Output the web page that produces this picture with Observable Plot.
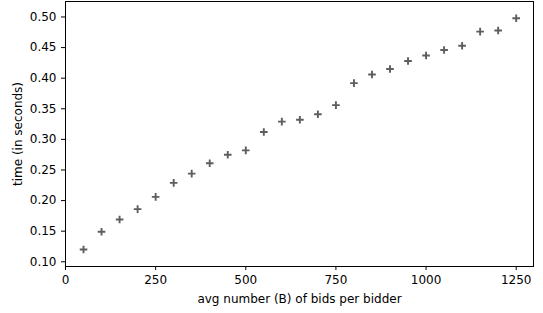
<!DOCTYPE html>
<html>
<head>
<meta charset="utf-8">
<script src="https://cdn.jsdelivr.net/npm/d3@7"></script>
<script src="https://cdn.jsdelivr.net/npm/@observablehq/plot@0.6"></script>
<style>
  html, body { margin: 0; padding: 0; background: #fff; }
  svg { display: block; }
</style>
</head>
<body>
<div id="chart"></div>
<script>
const bids = [50,100,150,200,250,300,350,400,450,500,550,600,650,700,750,800,850,900,950,1000,1050,1100,1150,1200,1250];
const times = [0.120,0.149,0.169,0.186,0.206,0.229,0.244,0.261,0.275,0.282,0.312,0.329,0.332,0.341,0.356,0.392,0.406,0.415,0.428,0.437,0.446,0.453,0.476,0.478,0.498];
const xTicks = [0,250,500,750,1000,1250];
const yTicks = [0.10,0.15,0.20,0.25,0.30,0.35,0.40,0.45,0.50];

const data = bids.map((b, i) => ({b, t: times[i]}));

const plusSymbol = {
  draw(context, size) {
    const r = Math.sqrt(size / Math.PI);
    context.moveTo(-r, 0); context.lineTo(r, 0);
    context.moveTo(0, -r); context.lineTo(0, r);
  }
};

const chart = Plot.plot({
  width: 543,
  height: 313,
  marginTop: 1,
  marginBottom: 47,
  marginLeft: 65,
  marginRight: 10,
  style: {fontFamily: "DejaVu Sans", fontSize: "12px", color: "black", background: "white"},
  x: {domain: [0, 1298]},
  y: {domain: [0.0923, 0.5253]},
  marks: [
    Plot.frame({stroke: "black", strokeWidth: 1}),
    Plot.axisX({ticks: xTicks, tickSize: 4, tickPadding: 5, fontSize: 12, tickFormat: d3.format("d"),
      label: "avg number (B) of bids per bidder", labelAnchor: "center", labelArrow: "none", labelOffset: 36}),
    Plot.axisY({ticks: yTicks, tickSize: 4, tickPadding: 5, fontSize: 12, tickFormat: d3.format(".2f"),
      label: "time (in seconds)", labelAnchor: "center", labelArrow: "none", labelOffset: 52}),
    Plot.dot(data, {x: "b", y: "t", symbol: plusSymbol, r: 3.8, fill: "none", stroke: "#5e5e5e", strokeWidth: 1.9})
  ]
});
document.getElementById("chart").appendChild(chart);
</script>
</body>
</html>
